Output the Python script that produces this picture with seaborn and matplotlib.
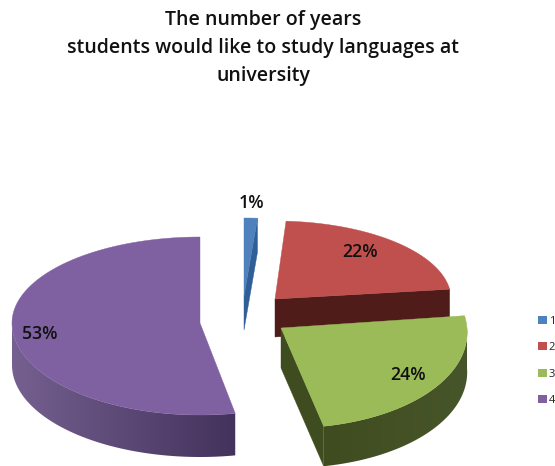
import numpy as np
import matplotlib
matplotlib.use("Agg")
import matplotlib.pyplot as plt
from matplotlib.colors import LinearSegmentedColormap
from matplotlib.patches import Polygon, Rectangle
import seaborn as sns

# Survey results
categories = ["1", "2", "3", "4"]
shares = [1, 22, 24, 53]
top_colors = ["#4F81BD", "#C0504D", "#9BBB59", "#7F61A1"]
title_lines = ["The number of years",
               "students would like to study languages at",
               "university"]

# Pseudo-3D layout for each exploded slice, in canvas pixels
slice_layout = [
    dict(tip=(244, 296), rx=215, back=78, front=78, skew=0.0, depth=34),
    dict(tip=(275, 299), rx=176, back=78, front=78, skew=0.0, depth=38),
    dict(tip=(281, 328), rx=186, back=98, front=100, skew=0.08, depth=40),
    dict(tip=(200, 323), rx=188, back=86, front=92, skew=0.0, depth=42),
]
# Shading of the side walls: (left end of the wall, right end, cut face)
wall_shades = [
    ("#2F5F96", "#2F5F96", "#2F5F96"),
    ("#4F1C1A", "#4F1C1A", "#4F1C1A"),
    ("#3F4C20", "#47562A", "#3F4C20"),
    ("#75608F", "#43325C", None),
]
label_offsets = [(7, -93), (85, -47), (127, 47), (-160, 11)]

sns.set_theme(style="white")
plt.rcParams["font.family"] = ["Open Sans", "DejaVu Sans"]
palette = sns.color_palette(top_colors)

fig = plt.figure(figsize=(5.55, 4.66), dpi=100)
ax = fig.add_axes([0, 0, 1, 1])


def rim(geo, deg):
    """Point on a slice's rim; deg runs clockwise from twelve o'clock."""
    a = np.radians(deg)
    ry = np.where(np.cos(a) > 0, geo["back"], geo["front"])
    dy = -ry * np.cos(a)
    return np.column_stack((geo["tip"][0] + geo["rx"] * np.sin(a) + geo["skew"] * dy,
                            geo["tip"][1] + dy))


edges = np.cumsum([0] + shares) / sum(shares) * 360.0
z = 1

for i, geo in enumerate(slice_layout):
    start, end = edges[i], edges[i + 1]
    tip = np.array(geo["tip"], dtype=float)
    drop = np.array([0, geo["depth"]])
    left_shade, right_shade, cut_shade = wall_shades[i]

    # Flat face left by the cut at the clockwise end of the slice
    if cut_shade is not None:
        corner = rim(geo, np.array([end]))[0]
        ax.add_patch(Polygon([tip, corner, corner + drop, tip + drop],
                             fc=cut_shade, ec=cut_shade, lw=0.3, zorder=z))
        z += 1

    # Curved outer wall with a horizontal shading gradient
    lo, hi = max(start, 90), min(end, 270)
    if hi > lo:
        pts = rim(geo, np.linspace(lo, hi, 160))
        outline = np.vstack((pts, pts[::-1] + drop))
        wall = Polygon(outline, fc="none", ec="none", zorder=z)
        ax.add_patch(wall)
        ramp = LinearSegmentedColormap.from_list("wall", [left_shade, right_shade])
        x0, x1 = outline[:, 0].min(), outline[:, 0].max()
        y0, y1 = outline[:, 1].min(), outline[:, 1].max()
        img = ax.imshow(np.linspace(0, 1, 256)[None, :], cmap=ramp, aspect="auto",
                        extent=(x0, x1, y1, y0), zorder=z)
        img.set_clip_path(wall)
        z += 1

    # Top face
    arc = rim(geo, np.linspace(start, end, 160))
    ax.add_patch(Polygon(np.vstack((tip, arc)), fc=palette[i], ec=palette[i],
                         lw=0.3, zorder=z))
    z += 1

    # Percentage label
    dx, dy = label_offsets[i]
    ax.text(tip[0] + dx, tip[1] + dy, f"{shares[i]}%", ha="center", va="center",
            fontsize=12.8, fontweight=600, color="#111111", zorder=50)

ax.set_xlim(0, 555)
ax.set_ylim(466, 0)
ax.axis("off")

for line, y in zip(title_lines, (20, 48, 76)):
    ax.text(263, y, line, ha="center", va="center", fontsize=14,
            fontweight=600, color="#111111")

handles = [Rectangle((0, 0), 1, 1, fc=c, ec="none") for c in palette]
ax.legend(handles, categories, loc="upper left", bbox_to_anchor=(538 / 555, 1 - 316 / 466),
          frameon=False, fontsize=8, handlelength=0.78, handleheight=0.72,
          handletextpad=0.2, labelspacing=1.38, borderpad=0, borderaxespad=0,
          labelcolor="#222222")

fig.savefig("out.png", dpi=100, facecolor="white")
